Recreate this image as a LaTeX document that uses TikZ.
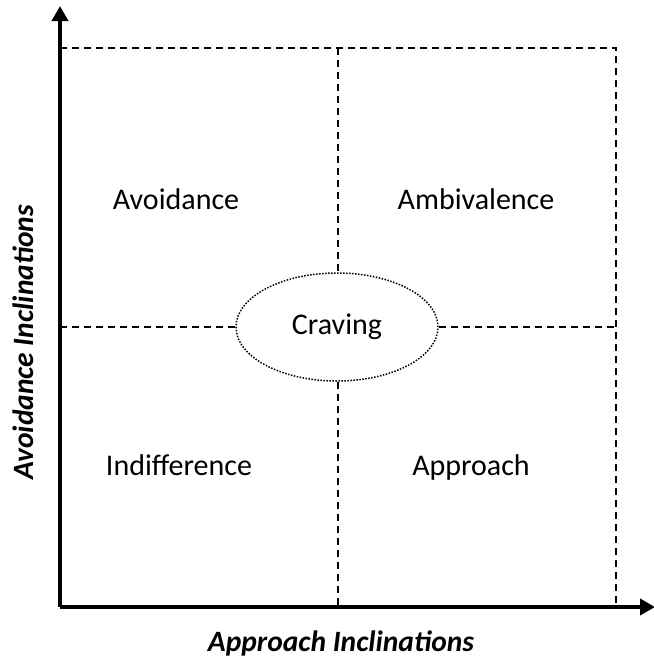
\documentclass[tikz,border=0pt]{standalone}
\usepackage{fontspec}
\setmainfont{Carlito}
\usetikzlibrary{arrows.meta,shapes.geometric}

\tikzset{
  axis/.style={line width=4pt, -{Triangle[length=15pt, width=16pt]}},
  quadline/.style={line width=1.6pt, dash pattern=on 7pt off 5pt},
  quadrant/.style={font=\fontsize{30}{36}\selectfont, anchor=base},
  axislabel/.style={font=\fontsize{29.5}{35}\selectfont\bfseries\itshape, anchor=base}
}

\begin{document}
\begin{tikzpicture}[x=1pt, y=-1pt]
      \useasboundingbox (0,0) rectangle (654,657);

      \coordinate (o) at (60,607);
      \coordinate (xend) at (655,607);
      \coordinate (yend) at (60,6);
      \coordinate (tl) at (60,48);
      \coordinate (tr) at (616,48);
      \coordinate (br) at (616,607);
      \coordinate (top) at (338,48);
      \coordinate (bot) at (338,607);
      \coordinate (left) at (60,327);
      \coordinate (right) at (616,327);

      \node[draw, ellipse, line width=1.5pt, dash pattern=on 1.5pt off 1.5pt, minimum width=202pt, minimum height=108pt, font=\fontsize{30}{36}\selectfont] (craving) at (337,327) {Craving};

      \draw[quadline] (tl) -- (tr) -- (br);
      \draw[quadline] (top) -- (top |- craving.north);
      \draw[quadline] (bot |- craving.south) -- (bot);
      \draw[quadline] (left) -- (craving.west);
      \draw[quadline] (craving.east) -- (right);

      \draw[axis] (o) -- (xend);
      \draw[axis] (o) -- (yend);

      \node[quadrant] (avoid) at (176,209) {Avoidance};
      \node[quadrant] (ambiv) at (476,209) {Ambivalence};
      \node[quadrant] (indiff) at (179,475) {Indifference};
      \node[quadrant] (appr) at (471,475) {Approach};

      \node[axislabel] (xlabel) at (341,651) {Approach Inclinations};
      \node[axislabel, rotate=90] (ylabel) at (33,342) {Avoidance Inclinations};
\end{tikzpicture}
\end{document}
